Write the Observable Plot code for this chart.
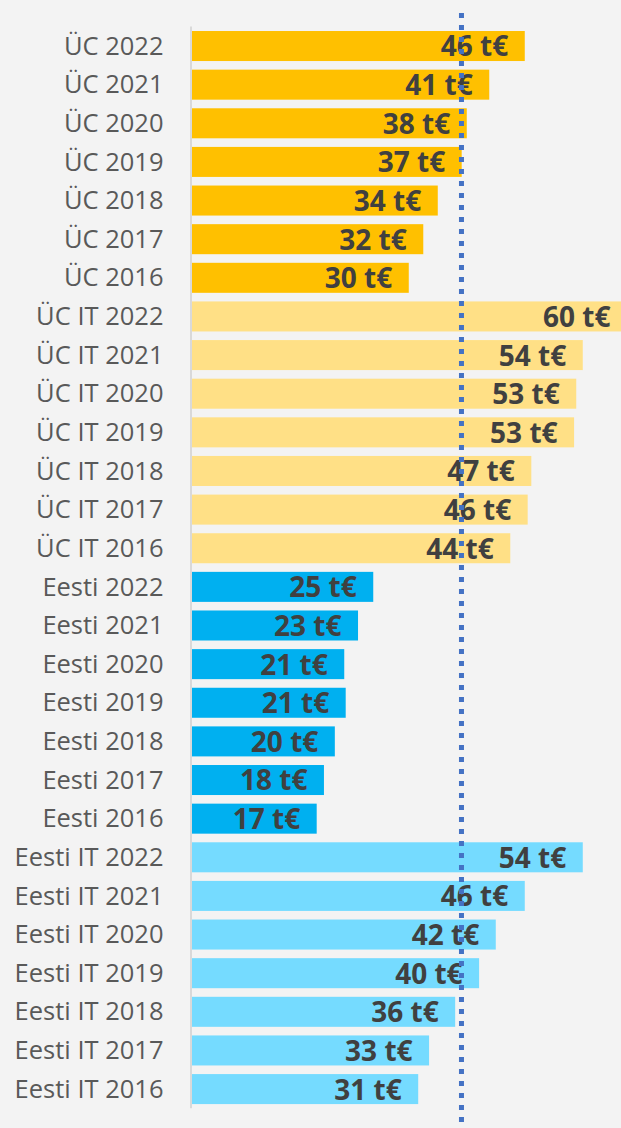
<!DOCTYPE html>
<html>
<head>
<meta charset="utf-8">
<script src="https://cdn.jsdelivr.net/npm/d3@7"></script>
<script src="https://cdn.jsdelivr.net/npm/@observablehq/plot@0.6"></script>
<style>
  html, body { margin: 0; padding: 0; background: #f3f3f3; overflow: hidden; }
  #chart svg { display: block; }
</style>
</head>
<body>
<div id="chart"></div>
<script>
const categories = [
  "ÜC 2022","ÜC 2021","ÜC 2020","ÜC 2019","ÜC 2018","ÜC 2017","ÜC 2016",
  "ÜC IT 2022","ÜC IT 2021","ÜC IT 2020","ÜC IT 2019","ÜC IT 2018","ÜC IT 2017","ÜC IT 2016",
  "Eesti 2022","Eesti 2021","Eesti 2020","Eesti 2019","Eesti 2018","Eesti 2017","Eesti 2016",
  "Eesti IT 2022","Eesti IT 2021","Eesti IT 2020","Eesti IT 2019","Eesti IT 2018","Eesti IT 2017","Eesti IT 2016"
];
const values = [
  45.9, 41.0, 37.9, 37.2, 33.9, 31.9, 29.9,
  60.0, 53.9, 53.0, 52.7, 46.8, 46.3, 43.9,
  25.0, 22.9, 21.0, 21.2, 19.7, 18.2, 17.2,
  53.9, 45.9, 41.9, 39.6, 36.3, 32.7, 31.2
];
const groupNames = ["ÜC", "ÜC IT", "Eesti", "Eesti IT"];
const groupColors = ["#ffc000", "#ffe086", "#00b0f0", "#75dbff"];
const referenceValue = 37.1;

const data = categories.map((c, i) => ({
  cat: c,
  value: values[i],
  group: c.replace(/ \d{4}$/, "")
}));

const chart = Plot.plot({
  width: 621,
  height: 1128,
  marginLeft: 192,
  marginRight: -6,
  marginTop: 22.4,
  marginBottom: 15.3,
  style: { background: "#f3f3f3", fontFamily: "'Open Sans', sans-serif" },
  x: { domain: [0, 60], axis: null },
  y: { domain: categories, padding: 0.223, round: false, axis: null },
  color: { domain: groupNames, range: groupColors },
  marks: [
    Plot.barX(data, { x: "value", y: "cat", fill: "group" }),
    Plot.text(data, {
      x: "value", y: "cat",
      text: d => Math.round(d.value) + " t€",
      textAnchor: "end", dx: -17, dy: 1,
      fontWeight: "bold", fontSize: 28, fill: "#404040"
    }),
    Plot.ruleX([0], { stroke: "#d9d9d9", strokeWidth: 2, dx: -1.5, insetTop: 4, insetBottom: 4.5 }),
    Plot.ruleX([referenceValue], {
      stroke: "#4472c4", strokeWidth: 5, strokeDasharray: "5 7",
      insetTop: -9.4, insetBottom: -9.3
    }),
    Plot.axisY({
      tickSize: 0, tickPadding: 29, fontSize: 25.5, fill: "#595959", label: null
    })
  ]
});
document.getElementById("chart").appendChild(chart);
</script>
</body>
</html>
